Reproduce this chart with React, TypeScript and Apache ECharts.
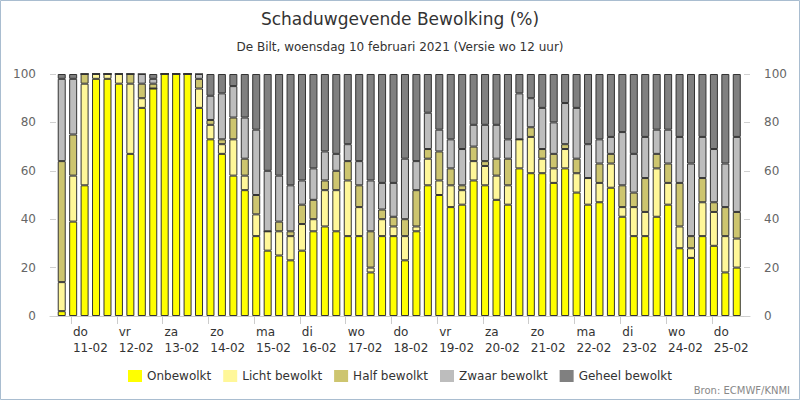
import React, { useEffect, useRef } from "react";
import * as echarts from "echarts";

// 60 forecast moments, every 6 hours, starting Wed 10-02 19:00 (hours since 10-02 00:00)
const startHour = 19;
const stepHours = 6;
const times: number[] = Array.from({ length: 60 }, (_, k) => startHour + stepHours * k);
const timeCategories = times.map((h) => `${10 + Math.floor(h / 24)}-02 ${h % 24}u`);

// day ticks (hours since 10-02 00:00) and their labels
const dayTicks = [24, 48, 72, 96, 120, 144, 168, 192, 216, 240, 264, 288, 312, 336, 360];
const dayLabels = [
  "do\n11-02", "vr\n12-02", "za\n13-02", "zo\n14-02", "ma\n15-02",
  "di\n16-02", "wo\n17-02", "do\n18-02", "vr\n19-02", "za\n20-02",
  "zo\n21-02", "ma\n22-02", "di\n23-02", "wo\n24-02", "do\n25-02",
];

const onbewolkt = [
  2, 39, 54, 98, 98, 96, 67, 86, 94, 100, 100, 100, 86, 73, 67, 58, 52, 33, 27, 25,
  23, 27, 35, 37, 35, 33, 33, 18, 33, 33, 23, 35, 54, 50, 45, 46, 56, 54, 48, 46,
  61, 59, 59, 55, 61, 51, 46, 47, 53, 41, 33, 33, 41, 46, 28, 24, 33, 29, 18, 20,
];
const lichtBewolkt = [
  12, 19, 42, 2, 2, 4, 29, 4, 0, 0, 0, 0, 8, 6, 4, 15, 6, 9, 8, 10,
  10, 11, 5, 15, 17, 23, 12, 2, 7, 4, 10, 2, 11, 6, 9, 6, 8, 8, 10, 8,
  12, 15, 6, 6, 8, 8, 11, 8, 10, 4, 12, 10, 20, 9, 9, 4, 14, 14, 15, 12,
];
const halfBewolkt = [
  50, 17, 4, 0, 0, 0, 4, 6, 2, 0, 0, 0, 4, 2, 2, 9, 7, 8, 0, 4,
  2, 8, 8, 4, 8, 8, 9, 15, 4, 4, 7, 15, 4, 12, 7, 2, 6, 2, 7, 11,
  0, 4, 4, 6, 2, 6, 0, 8, 4, 9, 6, 14, 6, 8, 18, 5, 10, 4, 12, 11,
];
const zwaarBewolkt = [
  34, 23, 0, 0, 0, 0, 0, 4, 2, 0, 0, 0, 2, 10, 19, 13, 17, 27, 25, 19,
  19, 10, 13, 12, 7, 7, 10, 21, 11, 14, 25, 12, 15, 9, 12, 15, 9, 15, 14, 8,
  19, 12, 17, 13, 17, 21, 14, 10, 7, 22, 16, 17, 10, 14, 19, 30, 17, 22, 18, 31,
];
const geheelBewolkt = [
  2, 2, 0, 0, 0, 0, 0, 0, 2, 0, 0, 0, 0, 9, 8, 5, 18, 23, 40, 42,
  46, 44, 39, 32, 33, 29, 36, 44, 45, 45, 35, 36, 16, 23, 27, 31, 21, 21, 21, 27,
  8, 10, 14, 20, 12, 14, 29, 27, 26, 24, 33, 26, 23, 23, 26, 37, 26, 31, 37, 26,
];

const seriesNames = ["Onbewolkt", "Licht bewolkt", "Half bewolkt", "Zwaar bewolkt", "Geheel bewolkt"];
const seriesValues = [onbewolkt, lichtBewolkt, halfBewolkt, zwaarBewolkt, geheelBewolkt];
const seriesColors = ["#ffff00", "#fff799", "#cdc56f", "#bdbdbd", "#808080"];

const yTicks = [0, 20, 40, 60, 80, 100];

const FONT = "DejaVu Sans";

export default function App() {
  const ref = useRef<HTMLDivElement>(null);

  useEffect(() => {
    document.body.style.margin = "0";
    if (!ref.current) return;
    const chart = echarts.init(ref.current, undefined, { renderer: "svg" });

    const yAxisCommon = {
      type: "value" as const,
      gridIndex: 1,
      min: yTicks[0],
      max: yTicks[yTicks.length - 1],
      interval: 20,
      axisLine: { show: false },
      axisTick: { show: true, inside: true, length: 6, lineStyle: { color: "#d0d0d0" } },
      splitLine: { show: false },
      axisLabel: { color: "#666", fontSize: 12, fontFamily: FONT, margin: 14 },
    };

    chart.setOption({
      animation: false,
      textStyle: { fontFamily: FONT },
      title: {
        text: "Schaduwgevende Bewolking (%)",
        subtext: "De Bilt, woensdag 10 februari 2021 (Versie wo 12 uur)",
        left: "center",
        top: 5,
        itemGap: 14,
        textStyle: { fontSize: 17, fontWeight: "normal", color: "#333", fontFamily: FONT },
        subtextStyle: { fontSize: 12, color: "#333", fontFamily: FONT },
      },
      legend: {
        bottom: 13,
        left: "center",
        icon: "rect",
        itemWidth: 14,
        itemHeight: 12,
        itemGap: 12,
        itemStyle: { borderWidth: 0 },
        textStyle: { fontSize: 12, color: "#333", fontFamily: FONT },
        data: seriesNames,
      },
      grid: [
        { left: 56, right: 57.5, top: 74, height: 242 },
        { left: 50, right: 50, top: 74, height: 242 },
      ],
      xAxis: [
        {
          type: "category",
          gridIndex: 0,
          data: timeCategories,
          boundaryGap: true,
          show: false,
        },
        {
          type: "value",
          gridIndex: 1,
          min: 13,
          max: 380,
          axisLine: { show: true, lineStyle: { color: "#cccccc" } },
          splitLine: { show: false },
          axisTick: { show: true, length: 8, lineStyle: { color: "#cccccc" }, customValues: dayTicks },
          axisLabel: {
            customValues: dayTicks,
            align: "left",
            padding: [0, 0, 0, 2],
            margin: 8,
            lineHeight: 16,
            color: "#333",
            fontSize: 12,
            fontFamily: FONT,
            formatter: (v: number) => {
              const i = dayTicks.indexOf(Math.round(v));
              return i >= 0 ? dayLabels[i] : "";
            },
          },
        },
      ],
      yAxis: [
        { type: "value", gridIndex: 0, min: 0, max: 100, show: false, splitLine: { show: false } },
        { ...yAxisCommon, position: "left" },
        { ...yAxisCommon, position: "right" },
      ],
      graphic: [
        {
          type: "rect",
          shape: { x: 0.5, y: 0.5, width: 799, height: 399 },
          style: { fill: "none", stroke: "#a9bdd0", lineWidth: 1 },
          silent: true,
        },
        {
          type: "text",
          right: 10,
          bottom: 5,
          style: { text: "Bron: ECMWF/KNMI", fill: "#888", fontSize: 10, fontFamily: FONT },
        },
      ],
      series: seriesNames.map((name, si) => ({
        name,
        type: "bar",
        stack: "cloud",
        xAxisIndex: 0,
        yAxisIndex: 0,
        barWidth: 8,
        itemStyle: { color: seriesColors[si], borderColor: "#333", borderWidth: 1 },
        emphasis: { disabled: true },
        data: seriesValues[si],
      })),
    });

    return () => chart.dispose();
  }, []);

  return <div ref={ref} style={{ width: 800, height: 400 }} />;
}
